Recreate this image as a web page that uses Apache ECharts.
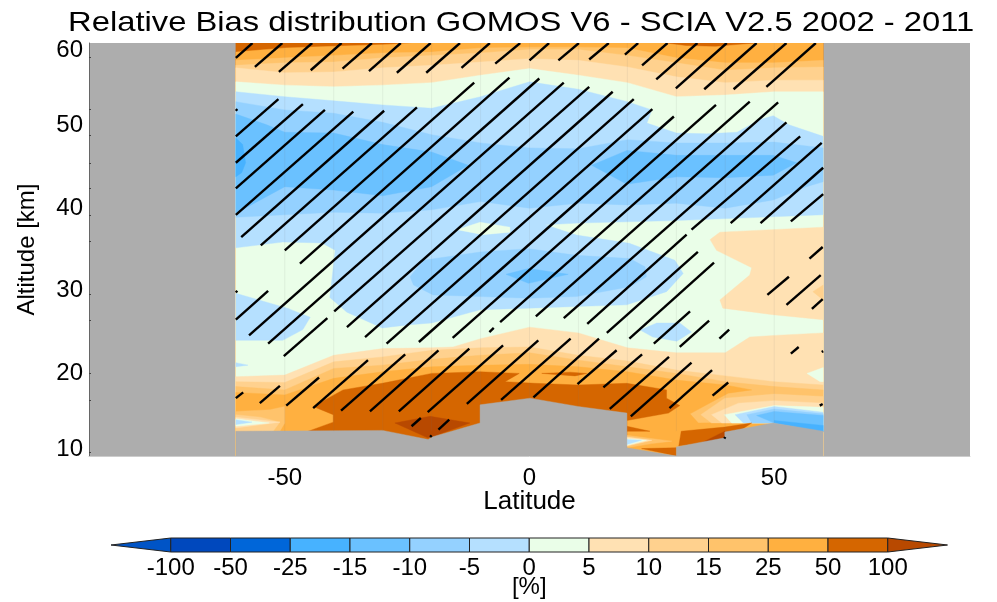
<!DOCTYPE html>
<html>
<head>
<meta charset="utf-8">
<title>Relative Bias distribution</title>
<script src="https://cdn.jsdelivr.net/npm/echarts@6/dist/echarts.min.js"></script>
<style>
  html, body { margin: 0; padding: 0; background: #fff; }
  #chart { width: 997px; height: 602px; }
</style>
</head>
<body>
<div id="chart"></div>
<script>
// colour class limits, in %
const levelLabels = ['-100', '-50', '-25', '-15', '-10', '-5', '0', '5', '10', '15', '25', '50', '100'];
const barColors = ['#0054C6', '#0048BD', '#0066D9', '#47B2FF', '#6AC1FF', '#94D1FF', '#B5E0FF',
  '#EAFEE8', '#FFE1B3', '#FFD18E', '#FFC36B', '#FFB040', '#D56600', '#B84900'];
const [, , , m25, m15, m10, m5, p0, p5, p10, p15, p25, p50, p100] = barColors;
const noData = '#ADADAD';

// latitude columns of the GOMOS grid
const latCols = [-60, -50, -40, -30, -20, -10, 0, 10, 20, 30, 40, 50, 60];

// altitude of the upper contours, one value per latitude column
const top25 = [57.9, 58.2, 58.5, 58.8, 58.9, 59.4, 59.5, 59.5, 59.4, 58.2, 57.6, 57.6, 57.9];
const top15 = [57.3, 57.6, 57.7, 58.2, 58.5, 58.8, 59.2, 59.2, 58.5, 57.6, 56.7, 57.0, 57.1];
const top10 = [57.0, 56.4, 56.5, 57.0, 57.3, 57.7, 58.1, 57.9, 57.1, 55.9, 55.2, 55.5, 55.5];
const top5 = [55.3, 54.9, 54.7, 54.9, 55.2, 56.1, 56.9, 56.1, 55.2, 53.5, 53.7, 54.1, 54.1];
// lower contours, same columns
const low10 = [19.0, 18.9, 21.4, 22.0, 22.8, 23.1, 23.2, 22.2, 21.5, 20.4, 19.7, 19.0, 18.6];
const low15 = [18.4, 18.0, 20.6, 21.0, 21.7, 22.2, 22.5, 21.6, 20.8, 20.0, 19.0, 18.4, 18.0];

// contours that do not follow the columns, as [lat, alt]
const top50 = [[-60, 58.9], [-50, 59.4], [-40, 59.6], [-30, 59.8], [-24, 60], [60, 60]];
const low5 = [[-60, 19.6], [-50, 19.8], [-40, 22.2], [-30, 23.0], [-20, 23.1], [-15.6, 23.2], [-10, 24.2], [0, 25.6],
  [10, 24.9], [20, 23.1], [30, 22.5], [40, 22.5], [45, 24.4], [50, 24.6], [60, 24.9]];

const topPatch = [[28, 60], [32, 59.7], [38, 59.6], [44, 59.9], [46, 60]];
const blueMain = [[-60, 54.1], [-50, 53.5], [-40, 53.0], [-30, 52.5], [-20, 52.1], [-10, 53.5], [0, 55.3], [10, 54.4], [20, 52.9],
  [25, 51.9], [24, 50.3], [30, 49.1], [36.2, 49.0], [42.4, 49.2], [47, 50.7], [49.8, 51.2], [53, 50.1], [60, 48.7],
  [60, 39.2], [30, 38.5], [10, 38.2], [3.2, 38.0], [9.6, 36.75], [20.4, 35.75], [29.7, 33.7], [31.4, 32.1], [28, 29.9],
  [19.9, 28.3], [9.6, 28.1], [-0.2, 27.9], [-10.1, 27.7], [-20, 26.1], [-24.4, 25.9], [-30.1, 25.5], [-37.3, 27.4],
  [-40.8, 29.2], [-39.7, 34.9], [-42.4, 35.8], [-50.4, 35.9], [-60, 35.2]];
const m10Upper = [[-60, 52.9], [-50, 51.9], [-40, 51.5], [-30, 50.4], [-20, 48.9], [-10, 47.9], [0, 47.3], [10, 47.2], [20, 48.3],
  [30, 47.9], [40, 47.9], [50, 48.0], [60, 47.3], [60, 43.2], [56.6, 42.6], [49.8, 41.0], [40, 40.0], [30, 40.6], [20, 40.4],
  [10, 40.6], [0, 40.0], [-10, 40.8], [-20, 39.8], [-30, 39.4], [-40, 39.5], [-50, 39.2], [-60, 38.9]];
const m15Left = [[-60, 51.4], [-53.7, 50.1], [-50, 49.2], [-40, 49.1], [-30, 47.7], [-20, 46.8], [-12.5, 45.2], [-20, 42.6],
  [-30, 41.5], [-40, 42.2], [-50, 42.6], [-60, 39.4]];
const m15Right = [[12.7, 45.2], [19.9, 47.0], [30.1, 46.4], [40.1, 46.4], [49.8, 46.4], [54.6, 45.5], [49.8, 44.0], [40.1, 43.7],
  [30.1, 43.8], [19.9, 42.9]];
const m25Left = [[-60, 48.5], [-58.6, 47.7], [-58, 45.5], [-58.8, 44.3], [-60, 43.8]];
const greenIsle = [[-14.8, 37.4], [-10.1, 38.3], [-4, 37.7], [-4, 37.1], [-9.5, 36.8]];
const m10Lower = [[-24.4, 31.7], [-21.7, 33.7], [-10.1, 34.7], [-0.2, 35.1], [9.6, 34.3], [20.5, 33.9], [23.6, 32.9], [23.9, 31.7],
  [20.5, 30.5], [9.6, 29.3], [-0.2, 29.1], [-10.1, 29.3], [-19.7, 29.5], [-23.7, 30.7]];
const m15Lower = [[-4.8, 32.0], [-0.2, 32.7], [7.9, 32.0], [-0.2, 30.9]];
const blueLeft = [[-60, 29.7], [-49.5, 27.9], [-44.8, 26.8], [-46.3, 25.3], [-50.4, 24.0], [-60, 24.0]];
const blueSliver = [[-60, 21.3], [-57.5, 21.0], [-60, 20.8]];
const blueRight = [[22.6, 25.25], [26, 26.1], [30.7, 26.1], [33.1, 25.0], [30.1, 23.9], [25.2, 24.4]];
const peachRight = [[36.9, 36.2], [38.9, 37.1], [60, 37.7], [60, 26.5], [49.8, 27.1], [39.5, 27.9], [38.9, 28.9], [45, 31.9],
  [45.4, 32.8], [38.2, 34.9]];
const p10Right = [[60, 30.7], [57.9, 29.9], [60, 28.9]];
const greenEdge = [[60, 20.7], [56.7, 20.0], [59.4, 19.0], [60, 19.0]];
const orangeLow = [[-60, 17.7], [-50, 17.4], [-40, 19.4], [-30, 20.2], [-20, 20.8], [-10, 21.0], [0, 21.1], [10, 20.8], [20, 20.2],
  [30, 19.2], [40, 18.6], [45.4, 18.0], [40.6, 17.6], [36.2, 16.2], [32.8, 15.1], [34.5, 14.0], [49.8, 14.1], [49.8, 10], [-60, 10]];

// layers near the ground on the left, south of -50
const leftP15 = [[-60, 15.4], [-53, 15.6], [-50, 16.0], [-50, 14.0], [-51, 13.0], [-60, 13.0]];
const leftP10 = [[-60, 15.0], [-55, 14.7], [-51, 14.1], [-52.4, 13.0], [-60, 13.0]];
const leftP5 = [[-60, 14.7], [-51, 14.1], [-60, 13.4]];
const leftP0 = [[-60, 14.5], [-53.2, 14.0], [-60, 13.6]];
const leftM5 = [[-60, 14.4], [-56.7, 14.1], [-60, 13.8]];

// layers near the ground on the right, north of 35
const rightP10 = [[35, 15.0], [39.9, 17.0], [50, 17.5], [60, 17.2], [60, 13.2], [50, 14.0], [37.2, 14.0]];
const rightP5 = [[37.2, 15.0], [42.7, 16.4], [50, 16.7], [60, 16.4], [60, 13.2], [50, 14.0], [39.3, 14.0]];
const rightP0 = [[39.8, 15.0], [50, 16.1], [60, 15.9], [60, 13.2], [50, 14.0], [41.3, 14.0]];
const rightM5 = [[42, 15.0], [50, 16.0], [60, 15.3], [60, 13.0], [50, 14.0], [43.7, 14.0]];
const rightM10 = [[44.4, 15.0], [50, 15.7], [60, 15.1], [60, 13.0], [50, 14.0], [45.4, 14.0]];
const rightM15 = [[46.4, 14.9], [50, 15.4], [60, 14.9], [60, 13.0], [50, 14.0]];
const rightM25 = [[50, 14.3], [60, 13.7], [60, 12.9], [50, 14.0]];

const darkMain = [[-44.2, 16.0], [-38.1, 18.0], [-30.1, 18.8], [-20, 20.0], [-10.1, 20.2], [-2.1, 20.0], [-5, 19.0], [1.1, 18.8],
  [9.9, 18.6], [19.9, 18.8], [28, 18.0], [28, 17.0], [30.7, 16.1], [28.4, 15.2], [19.9, 14.3], [19.9, 10], [-30, 10], [-45.2, 13.0],
  [-40.1, 14.1], [-40.1, 15.0]];
const darkSpot = [[2.5, 20.0], [8.3, 20.15], [11.7, 20.0], [9.3, 19.7]];
const darkA = [[19.9, 13.6], [24.6, 13.0], [19.9, 13.0]];
const darkB = [[31, 13.0], [39.9, 13.5], [45.4, 14.0], [40, 11.9], [30.5, 11.2]];
const darkC = [[22.9, 10.9], [30, 11.0], [30, 10.0]];
const deepLeft = [[-27.5, 14.0], [-20.3, 14.8], [-12.2, 14.0], [-20, 12.3], [-20.8, 12.2]];
const deepRight = [[35.5, 11.7], [39.9, 13.0], [39.9, 12.1]];
const spikeP15 = [[19.9, 12.5], [29.1, 11.8], [25, 11.5], [19.9, 11.0]];
const spikeP5 = [[19.9, 12.3], [25, 11.9], [19.9, 11.2]];
const spikeP0 = [[19.9, 12.1], [23.9, 11.9], [19.9, 11.3]];
const spikeM5 = [[19.9, 12.0], [22.9, 11.9], [19.9, 11.4]];

// everything under the retrieval floor has no data
const floorMask = [[-60, 13.0], [-30, 13.1], [-20.7, 12.0], [-19.9, 12.3], [-10.1, 14.0], [-10.1, 16.2], [0.1, 17.0], [9.9, 16.0],
  [19.9, 15.2], [19.9, 11.0], [30, 10.0], [30, 11.1], [39.9, 12.2], [39.9, 12.9], [49.8, 14.0], [60, 13.0], [60, 10], [-60, 10]];

// hatching: not significant, lat0, alt0, lat1, alt1
const hatchTop = [[-60, 58.2, -56.6, 60], [-56.1, 57.1, -50.5, 60], [-51.2, 56.5, -44.4, 60], [-44.7, 56.7, -38.4, 60],
  [-38.2, 56.9, -32.2, 60], [-32.8, 56.6, -26.3, 60], [-27.1, 56.4, -20.2, 60], [-21.1, 56.4, -14.2, 60], [-13.9, 57.0, -8.1, 60],
  [-7.0, 57.5, -1.9, 60], [0, 57.9, 4.0, 60], [5.9, 57.9, 10.1, 60], [12.2, 58.0, 16.2, 60], [19.5, 58.6, 22.2, 60],
  [23.0, 57.3, 28.2, 60], [25.9, 55.6, 34.3, 60], [29.9, 54.5, 40.3, 60], [35.7, 54.4, 46.4, 60], [41.7, 54.4, 52.5, 60],
  [48.4, 54.7, 58.5, 60]];
const hatchMain = [[-60, 48.7, -51.3, 53.2], [-60, 45.5, -46.3, 52.6], [-60, 42.4, -41.8, 51.9], [-60, 39.2, -36.0, 51.7],
  [-58.9, 36.5, -29.7, 51.8], [-54.9, 35.5, -23.0, 52.2], [-50.0, 34.9, -11.3, 55.2], [-46.9, 33.3, -4.1, 55.8],
  [-57.3, 24.6, 2.0, 55.7], [-53.4, 23.6, 7.0, 55.2], [-39.9, 27.5, 12.2, 54.7], [-37.3, 25.6, 17.0, 54.1],
  [-33.6, 24.4, 21.3, 53.2], [-29.2, 23.6, 25.1, 52.0], [-22.6, 23.8, 29.5, 51.1], [-15.7, 24.3, 38.1, 52.5],
  [-6.0, 26.2, 45.0, 52.9], [1.3, 26.9, 50.8, 52.8], [7.0, 26.7, 52.5, 50.4], [11.8, 26.0, 32.1, 36.8], [15.8, 24.9, 34.4, 34.7],
  [20.4, 24.2, 37.7, 33.4], [33.1, 37.4, 55.3, 48.7], [41.1, 38.2, 59.7, 47.9], [47.2, 38.2, 60, 44.9], [53.4, 38.4, 60, 41.7]];
const hatchShort = [[-60, 26.5, -53.4, 30.0], [-50.2, 22.1, -41.3, 26.7], [-8.2, 25.0, -7.3, 25.5], [25.4, 23.6, 32.8, 27.5],
  [30.7, 23.2, 36.7, 26.4], [38.8, 24.2, 40.8, 25.3], [57.2, 33.9, 59.9, 35.3], [48.6, 29.5, 53.0, 31.7], [52.5, 28.3, 59.5, 31.9],
  [57.7, 27.8, 59.9, 29.0], [53.4, 22.4, 55.0, 23.2], [59.3, 16.1, 59.9, 16.3], [-60, 29.8, -59.7, 30], [-60, 52.0, -59.7, 51.8],
  [59.7, 22.6, 60, 22.7], [-20.3, 12.3, -20.0, 12.5], [39.8, 12.1, 40, 12.3]];
const hatchLow = [[-60, 17.0, -58.5, 17.7], [-55.1, 16.4, -51.0, 18.5], [-49.7, 16.1, -43.0, 19.5], [-44.2, 15.8, -33.0, 21.6],
  [-38.5, 15.5, -25.4, 22.3], [-32.6, 15.4, -18.6, 22.8], [-26.7, 15.4, -12.3, 23.0], [-20.8, 15.3, -5.4, 23.4],
  [-12.8, 16.3, 1.8, 24.0], [-5.8, 16.8, 8.4, 24.2], [0.8, 17.1, 14.2, 24.2], [9.8, 18.7, 17.8, 22.8], [15.1, 18.3, 23.0, 22.3],
  [16.4, 15.7, 28.5, 22.0], [20.7, 14.8, 33.1, 21.3], [28.6, 15.8, 37.3, 20.4], [37.4, 17.3, 40.6, 18.9],
  [-24.1, 13.6, -22.2, 14.6], [-18.6, 13.2, -16.4, 14.4]];

const latTicks = [-50, 0, 50];
const altTickMarks = [58.3, 52.0, 48.8, 45.5, 42.4, 39.2, 36.0, 29.6, 26.4, 20.0, 16.8, 10.4];

function curve(alts) {
  return latCols.map((lat, i) => [lat, alts[i]]);
}
// polygon from a contour down to the bottom of the plot
function under(line) {
  return line.concat([[line[line.length - 1][0], 10], [line[0][0], 10]]);
}

// painted in this order, later layers cover the earlier ones
const layers = [
  [p50, under([[-60, 60], [60, 60]])],
  [p25, under(top50)],
  [p50, topPatch],
  [p15, under(curve(top25))],
  [p10, under(curve(top15))],
  [p5, under(curve(top10))],
  [p0, under(curve(top5))],
  [m5, blueMain],
  [m10, m10Upper],
  [m15, m15Left],
  [m15, m15Right],
  [m25, m25Left],
  [p0, greenIsle],
  [m10, m10Lower],
  [m15, m15Lower],
  [m5, blueLeft],
  [m5, blueSliver],
  [m5, blueRight],
  [p5, peachRight],
  [p10, p10Right],
  [p5, under(low5)],
  [p0, greenEdge],
  [p10, under(curve(low10))],
  [p15, under(curve(low15))],
  [p25, orangeLow],
  [p15, leftP15],
  [p10, leftP10],
  [p5, leftP5],
  [p0, leftP0],
  [m5, leftM5],
  [p10, rightP10],
  [p5, rightP5],
  [p0, rightP0],
  [m5, rightM5],
  [m10, rightM10],
  [m15, rightM15],
  [m25, rightM25],
  [p50, darkMain],
  [p50, darkSpot],
  [p50, darkA],
  [p50, darkB],
  [p50, darkC],
  [p100, deepLeft],
  [p100, deepRight],
  [p15, spikeP15],
  [p5, spikeP5],
  [p0, spikeP0],
  [m5, spikeM5],
  [noData, floorMask]
];
const hatch = hatchTop.concat(hatchMain, hatchShort, hatchLow);

const textFont = 'Liberation Sans';
let myChart = echarts.init(document.getElementById('chart'));

let option = {
  animation: false,
  backgroundColor: '#fff',
  // the original text is stretched sideways, a plain title cannot do that
  graphic: [{
    type: 'text',
    x: 68,
    y: 9,
    scaleX: 1.17,
    style: {
      text: 'Relative Bias distribution GOMOS V6 - SCIA V2.5 2002 - 2011',
      fontFamily: textFont, fontSize: 28, fill: '#000'
    }
  }],
  grid: [
    { left: 89, top: 43, width: 881, height: 413, show: true, backgroundColor: noData, borderWidth: 0, outerBoundsMode: 'none' },
    { left: 111, top: 538, width: 836.5, height: 14, outerBoundsMode: 'none' }
  ],
  xAxis: [{
    type: 'value', gridIndex: 0, min: -90, max: 90,
    name: 'Latitude', nameLocation: 'middle', nameGap: 33, nameMoveOverlap: false,
    nameTextStyle: { fontFamily: textFont, fontSize: 26, color: '#000' },
    axisLine: { show: true, onZero: false, lineStyle: { color: '#cccccc' } },
    axisTick: { show: false },
    splitLine: { show: false },
    axisLabel: { customValues: latTicks, margin: 10, fontFamily: textFont, fontSize: 24, color: '#000' }
  }, {
    type: 'value', gridIndex: 1, min: -1, max: 13, interval: 1,
    name: '[%]', nameLocation: 'middle', nameGap: 23, nameMoveOverlap: false,
    nameTextStyle: { fontFamily: textFont, fontSize: 24, color: '#000' },
    axisLine: { show: false },
    axisTick: { show: false },
    splitLine: { show: false },
    axisLabel: {
      margin: 4, fontFamily: textFont, fontSize: 24, color: '#000',
      formatter: v => levelLabels[v] || ''
    }
  }],
  yAxis: [{
    type: 'value', gridIndex: 0, min: 10, max: 60, interval: 10,
    name: 'Altitude [km]', nameLocation: 'middle', nameRotate: 90, nameGap: 50, nameMoveOverlap: false,
    nameTextStyle: { fontFamily: textFont, fontSize: 24, color: '#000' },
    axisLine: { show: true, onZero: false, lineStyle: { color: '#666666' } },
    axisTick: { show: true, inside: true, length: 2, customValues: altTickMarks, lineStyle: { color: '#444444' } },
    splitLine: { show: false },
    axisLabel: {
      margin: 6, fontFamily: textFont, fontSize: 24, color: '#000', lineHeight: 14,
      verticalAlignMaxLabel: 'top', verticalAlignMinLabel: 'bottom'
    }
  }, {
    type: 'value', gridIndex: 1, min: 0, max: 1,
    axisLine: { show: false }, axisTick: { show: false }, axisLabel: { show: false }, splitLine: { show: false }
  }],
  series: [{
    // filled contour bands
    type: 'custom',
    xAxisIndex: 0, yAxisIndex: 0,
    silent: true,
    clip: true,
    data: layers.map((layer, i) => [layer[1][0][0], layer[1][0][1], i]),
    renderItem: function (params, api) {
      let layer = layers[api.value(2)];
      return {
        type: 'polygon',
        shape: { points: layer[1].map(p => api.coord(p)) },
        style: { fill: layer[0], stroke: layer[0], lineWidth: 0.4 }
      };
    }
  }, {
    // grid seams of the contouring, faint in the original too
    type: 'custom',
    xAxisIndex: 0, yAxisIndex: 0,
    silent: true,
    clip: true,
    data: latCols.slice(1, -1).map(lat => [lat]),
    renderItem: function (params, api) {
      let lat = api.value(0);
      let p0 = api.coord([lat, 60]);
      let floor = floorMask.filter(p => Math.abs(p[0] - lat) < 0.6).reduce((a, p) => Math.max(a, p[1]), 13);
      let p1 = api.coord([lat, floor]);
      return {
        type: 'line',
        shape: { x1: p0[0], y1: p0[1], x2: p1[0], y2: p1[1] },
        style: { stroke: 'rgba(120,120,120,0.1)', lineWidth: 1 }
      };
    }
  }, {
    // hatching
    type: 'custom',
    xAxisIndex: 0, yAxisIndex: 0,
    silent: true,
    clip: true,
    z: 5,
    data: hatch,
    renderItem: function (params, api) {
      let p0 = api.coord([api.value(0), api.value(1)]);
      let p1 = api.coord([api.value(2), api.value(3)]);
      return {
        type: 'line',
        shape: { x1: p0[0], y1: p0[1], x2: p1[0], y2: p1[1] },
        style: { stroke: '#000', lineWidth: 2.4, lineCap: 'butt' }
      };
    }
  }, {
    // colour bar, the two ends are arrow heads
    type: 'custom',
    xAxisIndex: 1, yAxisIndex: 1,
    silent: true,
    clip: false,
    data: barColors.map((c, i) => [i - 1]),
    renderItem: function (params, api) {
      let i = api.value(0);
      let pts;
      if (i === -1) {
        pts = [[-1, 0.5], [0, 1], [0, 0]];
      } else if (i === 12) {
        pts = [[12, 0], [12, 1], [13, 0.5]];
      } else {
        pts = [[i, 0], [i, 1], [i + 1, 1], [i + 1, 0]];
      }
      return {
        type: 'polygon',
        shape: { points: pts.map(p => api.coord(p)) },
        style: { fill: barColors[i + 1], stroke: '#222', lineWidth: 1 }
      };
    }
  }]
};

if (option && typeof option === "object") {
  myChart.setOption(option, true);
}
</script>
</body>
</html>
